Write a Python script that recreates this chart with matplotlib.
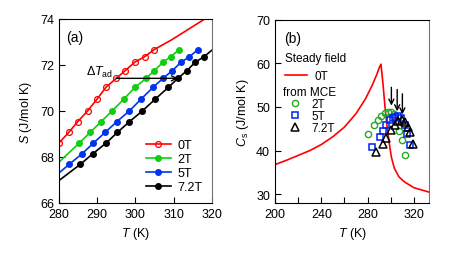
import numpy as np
import matplotlib
matplotlib.use("Agg")
import matplotlib.pyplot as plt
from matplotlib.lines import Line2D

plt.rcParams['font.family'] = ['Liberation Sans', 'DejaVu Sans']
plt.rcParams['font.size'] = 9
plt.rcParams['mathtext.fontset'] = 'custom'
plt.rcParams['mathtext.rm'] = 'Liberation Sans'
plt.rcParams['mathtext.it'] = 'Liberation Sans:italic'

# (a) entropy curves, markers sit on common entropy levels
S_levels = [67.68, 68.13, 68.6, 69.07, 69.53, 70.0, 70.52, 71.03, 71.42, 71.75, 72.12, 72.36, 72.67]
T_0T = [280.0, 282.6, 284.9, 287.5, 290.0, 292.3, 295.0, 297.3, 299.8, 302.4, 304.9]    # levels 2..12
T_2T = [285.3, 288.2, 291.0, 293.9, 297.0, 299.9, 302.8, 304.9, 307.2, 309.2, 311.4]    # levels 2..12
T_5T = [282.7, 286.0, 289.0, 292.1, 295.1, 298.4, 301.5, 304.6, 307.2, 309.6, 311.9, 314.1, 316.3]  # 0..12
T_72T = [285.6, 288.8, 292.3, 295.3, 298.4, 301.8, 305.2, 308.6, 311.1, 313.4, 315.6, 317.9]         # 0..11
# line parts outside the markers (start / end of each curve)
line_0T_end = ([309.5, 320.0], [73.1, 74.2])
line_2T_start = (280.0, 67.77)
line_5T_start = (280.0, 67.3)
line_72T_start = (280.0, 66.97)
line_72T_end = (320.0, 72.65)

# (b) heat capacity
T_steady = [200, 210, 220, 230, 240, 250, 260, 270, 278, 284, 288, 290, 291.5,
            293, 295, 297, 298.5, 300.5, 303, 307, 312, 320, 333]
C_steady = [36.8, 37.8, 38.9, 40.0, 41.4, 43.2, 45.4, 48.5, 51.8, 55.0, 57.5, 59.0, 59.8,
            56.0, 50.0, 45.0, 42.0, 38.5, 36.0, 34.0, 32.8, 31.5, 30.5]
T_mce2 = [280.0, 285.9, 288.8, 291.9, 294.7, 297.3, 300.0, 302.5, 307.5, 310.0, 312.0]
C_mce2 = [43.9, 45.9, 46.9, 47.9, 48.6, 48.9, 48.9, 48.5, 44.6, 42.4, 39.1]
T_mce5 = [284.1, 290.4, 293.3, 296.2, 299.0, 301.5, 303.8, 306.2, 309.1, 312.0, 314.0, 317.0]
C_mce5 = [40.8, 43.1, 44.4, 45.8, 46.9, 47.5, 47.8, 47.9, 47.5, 45.8, 43.9, 41.2]
T_mce72 = [286.9, 293.3, 296.0, 300.5, 303.6, 306.5, 309.5, 312.5, 314.5, 316.5, 319.5]
C_mce72 = [39.7, 41.5, 42.9, 44.8, 45.8, 46.8, 47.1, 46.5, 45.3, 44.2, 41.5]
arrow_T = [300.5, 305.5, 310.0]
arrow_top = [54.5, 54.0, 53.0]
arrow_bot = [50.3, 49.0, 48.3]

fig = plt.figure(figsize=(4.63, 2.55), dpi=100)
ax1 = fig.add_axes([0.127, 0.2, 0.331, 0.7216])
ax2 = fig.add_axes([0.594, 0.2, 0.3326, 0.719])

# ---- panel (a)
red, green, blue, black = '#ff0000', '#11cc11', '#0033ee', '#000000'

x = T_0T + line_0T_end[0]
y = S_levels[2:] + line_0T_end[1]
ax1.plot(x, y, color=red, lw=1.2, marker='o', ms=4.2, mfc='none', mew=0.9,
         markevery=list(range(len(T_0T))), label='0T')

x = [line_2T_start[0]] + T_2T
y = [line_2T_start[1]] + S_levels[2:]
ax1.plot(x, y, color=green, lw=1.2, marker='o', ms=4, markevery=list(range(1, len(x))), label='2T')

x = [line_5T_start[0]] + T_5T
y = [line_5T_start[1]] + S_levels
ax1.plot(x, y, color=blue, lw=1.2, marker='o', ms=4, markevery=list(range(1, len(x))), label='5T')

x = [line_72T_start[0]] + T_72T + [line_72T_end[0]]
y = [line_72T_start[1]] + S_levels[:12] + [line_72T_end[1]]
ax1.plot(x, y, color=black, lw=1.2, marker='o', ms=4, markevery=list(range(1, len(x) - 1)), label='7.2T')

# adiabatic temperature change arrow
ax1.annotate('', xy=(T_72T[8], S_levels[8]), xytext=(T_0T[6], S_levels[8]),
             arrowprops=dict(arrowstyle='->', color='black', lw=1.0, shrinkA=0, shrinkB=0))
ax1.text(T_0T[6] - 0.8, S_levels[8] + 0.15, r'$\Delta\mathit{T}_{\rm ad}$', ha='right', va='baseline', fontsize=9)
ax1.text(0.05, 0.94, '(a)', transform=ax1.transAxes, va='top', fontsize=10)

ax1.set_xlim(280, 320)
ax1.set_ylim(66, 74)
ax1.set_xticks([280, 290, 300, 310, 320])
ax1.set_yticks([66, 68, 70, 72, 74])
ax1.tick_params(direction='in', length=4, width=0.8)
ax1.set_xlabel(r'$\mathit{T}$ (K)')
ax1.set_ylabel(r'$\mathit{S}$ (J/mol K)')
ax1.legend(loc='lower right', frameon=False, handlelength=2.0, handletextpad=0.5,
           labelspacing=0.15, borderaxespad=0.4, fontsize=9)

# ---- panel (b)
ax2.plot(T_steady, C_steady, color=red, lw=1.2)
ax2.plot(T_mce2, C_mce2, ls='none', marker='o', ms=4.5, mfc='none', mec='#22aa22', mew=1.0)
ax2.plot(T_mce5, C_mce5, ls='none', marker='s', ms=4.8, mfc='none', mec='#0022ee', mew=1.1)
ax2.plot(T_mce72, C_mce72, ls='none', marker='^', ms=5.5, mfc='none', mec='black', mew=1.1)
for t, top, bot in zip(arrow_T, arrow_top, arrow_bot):
    ax2.annotate('', xy=(t, bot), xytext=(t, top),
                 arrowprops=dict(arrowstyle='->', color='black', lw=1.0, shrinkA=0, shrinkB=0))
ax2.text(0.06, 0.94, '(b)', transform=ax2.transAxes, va='top', fontsize=10)

leg1 = ax2.legend(handles=[Line2D([], [], color=red, lw=1.2)], labels=['0T'],
                  title='Steady field', loc='upper left', bbox_to_anchor=(0.065, 0.825),
                  frameon=False, borderpad=0, borderaxespad=0, handlelength=1.9,
                  handletextpad=0.6, fontsize=8.5, title_fontsize=8.5)
leg1._legend_box.align = 'left'
ax2.add_artist(leg1)
h2 = [Line2D([], [], ls='none', marker='o', ms=4.5, mfc='none', mec='#22aa22', mew=1.0),
      Line2D([], [], ls='none', marker='s', ms=4.8, mfc='none', mec='#0022ee', mew=1.1),
      Line2D([], [], ls='none', marker='^', ms=5.5, mfc='none', mec='black', mew=1.1)]
leg2 = ax2.legend(handles=h2, labels=['2T', '5T', '7.2T'], title='from MCE',
                  loc='upper left', bbox_to_anchor=(0.05, 0.64), frameon=False,
                  borderpad=0, borderaxespad=0, handlelength=2.0, handletextpad=0.4,
                  labelspacing=0.0, fontsize=8.5, title_fontsize=8.5)
leg2._legend_box.align = 'left'

ax2.set_xlim(200, 333)
ax2.set_ylim(28, 70)
ax2.set_xticks([200, 240, 280, 320])
ax2.set_xticks([220, 260, 300], minor=True)
ax2.set_yticks([30, 40, 50, 60, 70])
ax2.tick_params(which='both', direction='in', length=4, width=0.8)
ax2.set_xlabel(r'$\mathit{T}$ (K)')
ax2.set_ylabel(r'$\mathit{C}_{\rm s}$ (J/mol K)')

for ax in (ax1, ax2):
    for sp in ax.spines.values():
        sp.set_linewidth(0.8)
    ax.spines['right'].set_color('0.45')

fig.savefig('out.png', dpi=100)
